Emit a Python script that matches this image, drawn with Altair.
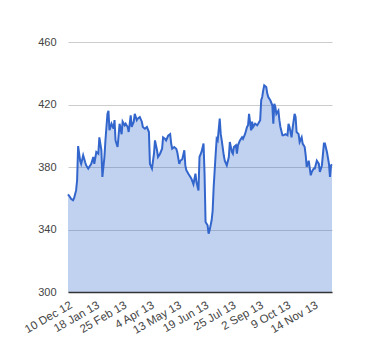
import json
import altair as alt
import pandas as pd

# trading-day index (0 = 10 Dec 12) and closing value
day = [0, 2, 3, 5, 6, 8, 9, 10, 12, 13, 14, 15, 17, 18, 20, 21, 23, 25, 26, 28,
       30, 31, 33, 34, 36, 37, 39, 40, 41, 43, 45, 46, 47, 49, 50, 51, 53, 54, 56, 57,
       59, 60, 62, 63, 65, 66, 68, 69, 71, 73, 74, 76, 78, 80, 81, 83, 85, 86, 88, 89,
       91, 93, 94, 96, 97, 99, 101, 102, 103, 105, 107, 108, 110, 111, 113, 115, 116, 117, 119, 121,
       122, 124, 126, 127, 129, 130, 132, 134, 135, 136, 138, 139, 140, 142, 143, 144, 146, 147, 148, 150,
       151, 152, 154, 155, 157, 159, 160, 162, 163, 164, 166, 167, 168, 170, 172, 173, 175, 177, 178, 179,
       181, 182, 183, 185, 187, 188, 190, 191, 192, 193, 194, 196, 197, 198, 200, 202, 203, 204, 205, 206,
       208, 209, 210, 212, 213, 215, 217, 218, 219, 221, 222, 224, 225, 226, 228, 229, 231, 232, 234, 235,
       236, 238, 240, 241, 243, 244, 246, 248, 249, 251, 253, 254, 256, 258, 259, 260, 261]
value = [362.5, 360.8, 359.7, 358.7, 360, 365, 371.5, 393.4, 384, 382, 384.7, 387.5, 383, 381, 379, 380, 382, 386.4, 382, 389.6,
         388.5, 399, 390.7, 373.6, 386.4, 397, 414, 416, 403.5, 407.7, 404.5, 410, 397, 392.8, 400, 407.7, 401, 409, 406.7, 407.7,
         405.6, 402.4, 413, 405.6, 409, 414, 410, 411, 412, 409, 405.6, 404.5, 405.6, 402.4, 382, 379, 388.5, 397, 390.7, 386.4,
         388.5, 391.7, 399, 398, 397, 400, 401, 395, 391.7, 392.8, 391.7, 389.6, 382, 384, 385, 390.7, 381, 378, 375.7, 373.6,
         372.5, 369, 375.7, 370.4, 365, 386.4, 389.6, 395, 375.7, 344.8, 342.7, 337.3, 339.5, 345.9, 352, 367, 388.5, 398, 397, 411,
         401, 397, 387.5, 384, 381, 386.4, 396, 389.6, 388.5, 392.8, 393.9, 388.5, 393.9, 397, 399, 398, 401, 405.6, 406.7, 414,
         403.5, 409, 405.6, 407.7, 406.7, 407.7, 410, 422.7, 424.8, 429, 432.3, 431.2, 427, 424.8, 422.7, 419.5, 407.7, 420.5, 418.4, 414,
         416, 410, 405.6, 400.3, 400.3, 401, 400.3, 407.7, 405.6, 399, 404.5, 414, 412, 402.4, 401, 396, 399, 395, 392.8, 387.5,
         380, 384, 374.7, 376.8, 379, 379, 384, 382, 376.8, 381, 395, 395, 389.6, 382, 373.6, 381, 381.7]

tick_days = [0, 27, 54, 81, 108, 135, 162, 189, 216, 243]
tick_labels = ["10 Dec 12", "18 Jan 13", "25 Feb 13", "4 Apr 13", "13 May 13",
               "19 Jun 13", "25 Jul 13", "2 Sep 13", "9 Oct 13", "14 Nov 13"]
y_ticks = [300, 340, 380, 420, 460]

df = pd.DataFrame({"day": day, "value": value})

label_expr = json.dumps(tick_labels) + "[round(datum.value / 27)]"

x = alt.X("day:Q",
          scale=alt.Scale(domain=[0, 261], nice=False, zero=False),
          axis=alt.Axis(values=tick_days, labelExpr=label_expr, title=None,
                        grid=False, ticks=False, domain=True, domainColor="#333333",
                        domainWidth=1.5, labelAngle=330, labelAlign="right",
                        labelBaseline="top", labelPadding=7, labelColor="#444444",
                        labelFont="Liberation Sans", labelFontSize=11.5, zindex=1,
                        labelOverlap=False))
y = alt.Y("value:Q",
          scale=alt.Scale(domain=[300, 460], nice=False, zero=False),
          axis=alt.Axis(values=y_ticks, title=None, domain=False, ticks=False,
                        grid=True, gridColor="#cccccc", gridWidth=1,
                        labelColor="#444444", labelFont="Liberation Sans",
                        labelFontSize=11, labelPadding=12))

base = alt.Chart(df)
area = base.mark_area(color="#3366CC", fillOpacity=0.3, strokeWidth=0).encode(
    x=x, y=y, y2=alt.datum(300))
line = base.mark_line(color="#3366CC", strokeWidth=2).encode(x=x, y=y)

chart = (area + line).properties(
    width=264, height=250,
    autosize=alt.AutoSizeParams(type="none"),
    padding={"left": 60, "top": 34, "right": 40, "bottom": 60},
    background="white",
).configure_view(strokeWidth=0)

chart.save("out.html", embed_options={"renderer": "svg", "actions": False})
